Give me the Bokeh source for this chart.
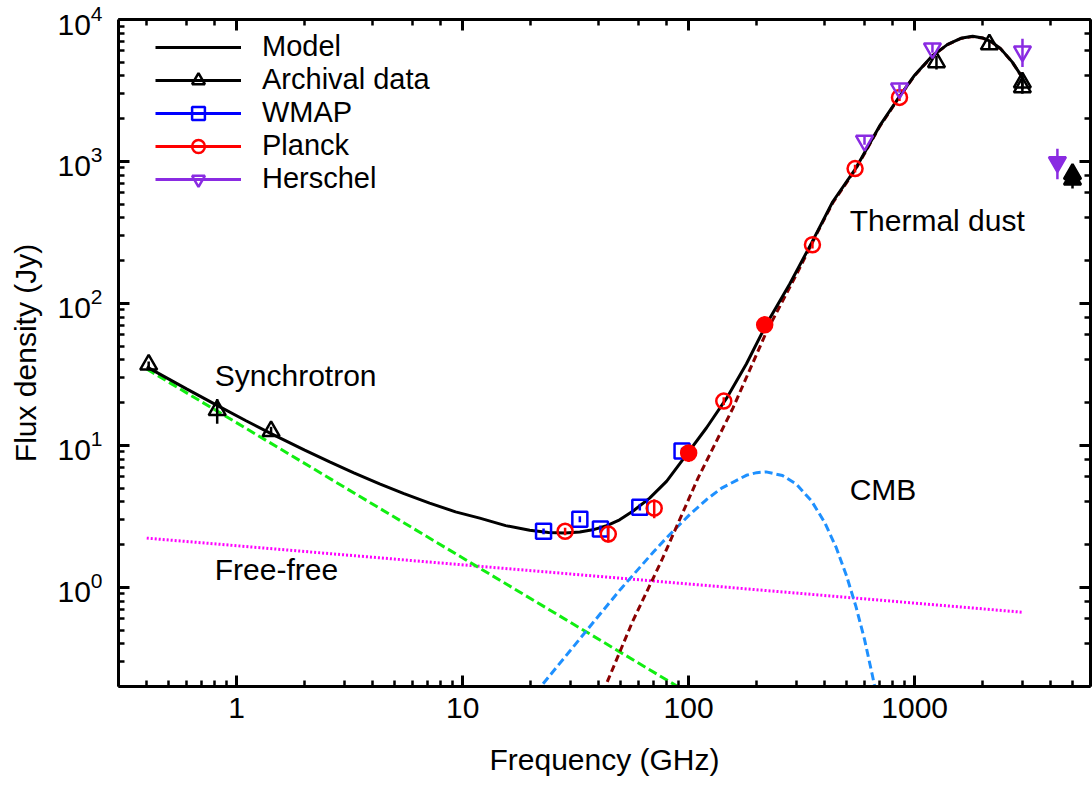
from bokeh.plotting import figure
from bokeh.models import (ColumnDataSource, LogAxis, Legend, LegendItem, Label,
                          NumeralTickFormatter, CustomJSTickFormatter, Range1d)
from bokeh.embed import file_html
from bokeh.resources import INLINE

FONT = "Liberation Sans"
NAN = float("nan")

# ---- measured flux densities (GHz, Jy) ----
arch_freq = [0.408, 0.82, 1.42, 1249, 2141, 2997, 2997, 4995, 4995]
arch_flux = [37.0, 17.7, 12.6, 5000, 6680, 3600, 3325, 815, 745]
arch_err = [2.0, 3.5, 0.9, 550, 420, 380, 330, 60, 100]
arch_filled = [0, 0, 0, 0, 0, 0, 0, 1, 1]

wmap_freq = [22.8, 33.0, 40.7, 60.8, 93.5]
wmap_flux = [2.48, 3.02, 2.57, 3.67, 9.12]
wmap_err = [0.12, 0.15, 0.15, 0.2, 0.5]
wmap_filled = [0, 0, 0, 0, 0]

planck_freq = [28.4, 44.1, 70.4, 100, 143, 217, 353, 545, 857]
planck_flux = [2.48, 2.37, 3.61, 8.83, 20.5, 70.6, 259, 891, 2825]
planck_err = [0.15, 0.3, 0.55, 1.2, 1.3, 3.0, 15, 55, 160]
planck_filled = [0, 0, 0, 1, 0, 1, 0, 0, 0]

herschel_freq = [600, 857, 1199, 3000, 4283]
herschel_flux = [1400, 3270, 6270, 5970, 990]
herschel_err = [90, 220, 450, 1350, 240]
herschel_filled = [0, 0, 0, 0, 1]

# ---- model and its components ----
model_freq = [0.4, 0.6, 0.8, 1.1, 1.42, 2.0, 2.58, 3.3, 4.29, 5.5, 7.14, 9.3, 11.9,
              15.5, 19.8, 24, 28.3, 33, 37.6, 43, 49.5, 57, 67.2, 80, 97.9, 120, 147,
              180, 221, 280, 350, 434, 548, 700, 867, 1000, 1200, 1400, 1600, 1806,
              2000, 2200, 2400, 2700, 3000]
model_flux = [35.7, 25.0, 19.5, 14.9, 12.1, 9.25, 7.64, 6.40, 5.35, 4.57, 3.92, 3.40,
              3.07, 2.72, 2.52, 2.43, 2.41, 2.45, 2.54, 2.70, 2.99, 3.46, 4.25, 5.60,
              8.6, 13.3, 21.4, 37.4, 71.5, 137, 267, 520, 891, 1780, 2950, 4050, 5570,
              6680, 7370, 7610, 7420, 6935, 6235, 5030, 3900]

sync_freq = [0.40, 89.4]
sync_flux = [34.5, 0.20]

ff_freq = [0.40, 3006]
ff_flux = [2.22, 0.667]

cmb_freq = [21, 30, 40, 50, 70, 80, 100, 120, 140, 180, 200, 220, 260, 300, 350, 400,
            450, 500, 550, 600, 650, 700]
cmb_flux = [0.18, 0.36, 0.63, 0.97, 1.78, 2.24, 3.2, 4.15, 5.0, 6.15, 6.42, 6.5, 6.13,
            5.32, 4.05, 2.86, 1.9, 1.2, 0.73, 0.43, 0.24, 0.136]

dust_freq = [40, 56.5, 76, 110, 157, 221, 300, 380, 434, 548, 700, 867, 1000, 1200,
             1400, 1600, 1806, 2000, 2200, 2400, 2700, 3000]
dust_flux = [0.155, 0.575, 1.55, 5.88, 18.3, 63, 160, 340, 510, 880, 1760, 2930, 4030,
             5550, 6660, 7350, 7590, 7400, 6920, 6220, 5020, 3890]

p = figure(width=1092, height=789, x_axis_type="log", y_axis_type="log",
           x_range=Range1d(0.3, 6000), y_range=Range1d(0.2, 10001),
           output_backend="svg", toolbar_location=None,
           min_border_left=118, min_border_right=2, min_border_top=19,
           min_border_bottom=103)
p.outline_line_color = None
p.xgrid.visible = False
p.ygrid.visible = False
p.background_fill_color = "white"
p.border_fill_color = "white"


def style_axis(ax):
    ax.axis_line_width = 3
    ax.axis_line_color = "black"
    ax.major_tick_in = 11
    ax.major_tick_out = 0
    ax.minor_tick_in = 6
    ax.minor_tick_out = 0
    ax.major_tick_line_width = 3
    ax.minor_tick_line_width = 2.5
    ax.major_tick_line_color = "black"
    ax.minor_tick_line_color = "black"
    ax.major_label_text_font = FONT
    ax.major_label_text_font_size = "30px"
    ax.major_label_text_color = "black"
    ax.axis_label_text_font = FONT
    ax.axis_label_text_font_size = "30px"
    ax.axis_label_text_font_style = "normal"
    ax.axis_label_text_color = "black"


xa = p.xaxis[0]
ya = p.yaxis[0]
style_axis(xa)
style_axis(ya)
xa.formatter = NumeralTickFormatter(format="0")
xa.axis_label = "Frequency (GHz)"
xa.major_label_standoff = 11
xa.axis_label_standoff = 22
ya.axis_label = "Flux density (Jy)"
ya.major_label_standoff = 16
ya.axis_label_standoff = 12

blank = CustomJSTickFormatter(code="return ''")
for side in ("above", "right"):
    ax = LogAxis(formatter=blank, major_label_standoff=0)
    style_axis(ax)
    p.add_layout(ax, side)

# components
p.line(ff_freq, ff_flux, color="#ff00ff", line_width=3, line_dash="2 2")
p.line(sync_freq, sync_flux, color="#11ee11", line_width=3, line_dash="9 4")
p.line(cmb_freq, cmb_flux, color="#1e90ff", line_width=3, line_dash="8 4")
p.line(dust_freq, dust_flux, color="#8b0000", line_width=3, line_dash="7 4")
model_r = p.line(model_freq, model_flux, color="black", line_width=3)


def add_points(freq, flux, err, filled, color, marker, size):
    src = ColumnDataSource(dict(
        x=freq, y=flux,
        lo=[f - e for f, e in zip(flux, err)],
        hi=[f + e for f, e in zip(flux, err)],
        fa=[1.0 if k else 0.0 for k in filled]))
    p.segment(x0="x", y0="lo", x1="x", y1="hi", source=src, color=color, line_width=2.5)
    sc = p.scatter(x="x", y="y", source=src, marker=marker, size=size,
                   line_color=color, fill_color=color, fill_alpha="fa", line_width=2.5)
    # key line for the legend entry (no drawable points)
    ln = p.line([NAN], [NAN], color=color, line_width=3)
    return ln, sc


arch_ln, arch_sc = add_points(arch_freq, arch_flux, arch_err, arch_filled, "black", "triangle", 17)
wmap_ln, wmap_sc = add_points(wmap_freq, wmap_flux, wmap_err, wmap_filled, "#0000ff", "square", 15)
pl_ln, pl_sc = add_points(planck_freq, planck_flux, planck_err, planck_filled, "#ff0000", "circle", 15)
he_ln, he_sc = add_points(herschel_freq, herschel_flux, herschel_err, herschel_filled, "#8a2be2", "inverted_triangle", 17)

legend = Legend(items=[
    LegendItem(label="Model", renderers=[model_r]),
    LegendItem(label="Archival data", renderers=[arch_ln, arch_sc]),
    LegendItem(label="WMAP", renderers=[wmap_ln, wmap_sc]),
    LegendItem(label="Planck", renderers=[pl_ln, pl_sc]),
    LegendItem(label="Herschel", renderers=[he_ln, he_sc]),
], location=(37, 491))
legend.border_line_color = None
legend.background_fill_alpha = 0
legend.label_text_font = FONT
legend.label_text_font_size = "29px"
legend.label_text_color = "black"
legend.glyph_width = 86
legend.glyph_height = 32
legend.label_height = 32
legend.label_standoff = 21
legend.spacing = 0
legend.padding = 0
legend.margin = 0
p.add_layout(legend)

for txt, xv, yv in [("Synchrotron", 0.8, 30.8), ("Free-free", 0.8, 1.34),
                    ("CMB", 516, 4.92), ("Thermal dust", 516, 383)]:
    p.add_layout(Label(x=xv, y=yv, text=txt, text_font=FONT, text_font_size="30px",
                       text_baseline="middle", text_align="left", text_color="black"))

open("out.html", "w").write(file_html(p, INLINE))
